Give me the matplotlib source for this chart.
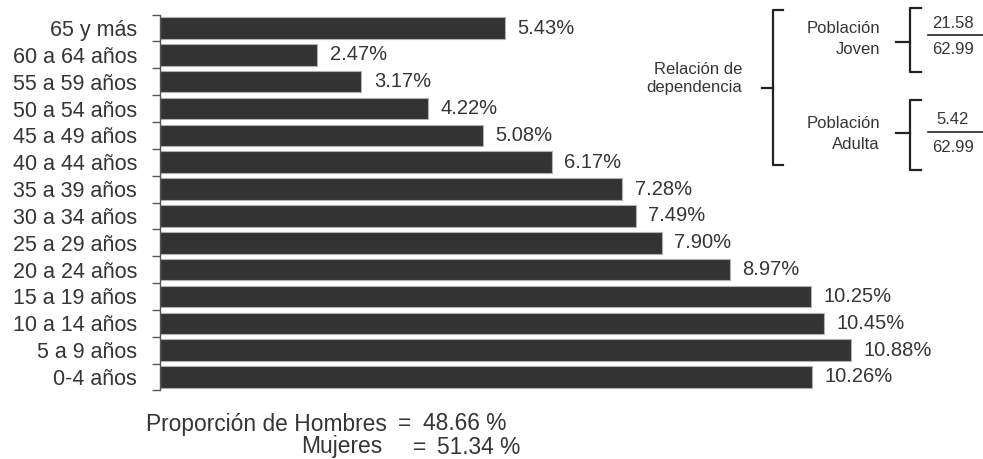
import matplotlib
matplotlib.use("Agg")
import matplotlib.pyplot as plt
from matplotlib.lines import Line2D
import numpy as np

plt.rcParams["font.family"] = ["Liberation Sans", "DejaVu Sans"]

# age groups, top to bottom as drawn
grupos = ["65 y más", "60 a 64 años", "55 a 59 años", "50 a 54 años", "45 a 49 años",
          "40 a 44 años", "35 a 39 años", "30 a 34 años", "25 a 29 años", "20 a 24 años",
          "15 a 19 años", "10 a 14 años", "5 a 9 años", "0-4 años"]
porcentajes = [5.43, 2.47, 3.17, 4.22, 5.08, 6.17, 7.28, 7.49, 7.90, 8.97,
               10.25, 10.45, 10.88, 10.26]

joven_num, joven_den = "21.58", "62.99"
adulta_num, adulta_den = "5.42", "62.99"
hombres, mujeres = "48.66 %", "51.34 %"

W, H = 983, 459
TXT = "#353535"


def px(x, y):
    """pixel (from top-left) -> figure fraction"""
    return x / W, 1 - y / H


fig = plt.figure(figsize=(W / 100, H / 100), dpi=100)
ax = fig.add_axes([160 / W, 1 - 390.4 / H, 63.5 * 12 / W, (390.4 - 14.6) / H])

ypos = np.arange(len(grupos))
ax.barh(ypos, porcentajes, height=0.8, color="#333333", edgecolor="#b0b0b0", linewidth=0.8)
for y, v in zip(ypos, porcentajes):
    ax.text(v + 0.2, y, f"{v:.2f}%", va="center", ha="left", fontsize=14.5, color=TXT)

ax.set_xlim(0, 12)
ax.set_ylim(len(grupos) - 0.5, -0.5)
ax.set_yticks(ypos)
ax.set_yticklabels(grupos, fontsize=15.5, color=TXT)
ax.set_yticks(np.arange(-0.5, len(grupos)), minor=True)
ax.tick_params(axis="y", which="major", length=0, pad=16.5)
ax.tick_params(axis="y", which="minor", length=6, width=1, color="#555555")
ax.set_xticks([])
for s in ["top", "right", "bottom"]:
    ax.spines[s].set_visible(False)
ax.spines["left"].set_color("#555555")
ax.spines["left"].set_linewidth(1)


def brace(x, y0, y1, ym, tick, serif):
    pts = [(x + serif, y0), (x, y0), (x, y1), (x + serif, y1)]
    xs, ys = zip(*[px(a, b) for a, b in pts])
    fig.add_artist(Line2D(xs, ys, color="#222222", lw=1.6, solid_joinstyle="round"))
    (a0, b0), (a1, b1) = px(x - tick, ym), px(x, ym)
    fig.add_artist(Line2D([a0, a1], [b0, b1], color="#222222", lw=1.6))


def ftext(x, y, s, **kw):
    kw.setdefault("fontsize", 12)
    kw.setdefault("color", TXT)
    fig.text(*px(x, y), s, **kw)


# dependency annotation
ftext(742, 78, "Relación de\ndependencia", ha="right", va="center", linespacing=1.25)
brace(773, 10, 165, 88, 11, 10)
ftext(880, 39, "Población\nJoven", ha="right", va="center", linespacing=1.5)
brace(910, 8, 72, 42, 14, 11)
ftext(880, 134, "Población\nAdulta", ha="right", va="center", linespacing=1.5)
brace(910, 100, 170, 133, 14, 11)

for num, den, yl in [(joven_num, joven_den, 35), (adulta_num, adulta_den, 132)]:
    ftext(953, yl - 12, num, ha="center", va="center")
    ftext(953, yl + 15, den, ha="center", va="center")
    (a0, b0), (a1, b1) = px(928, yl), px(983, yl)
    fig.add_artist(Line2D([a0, a1], [b0, b1], color="#222222", lw=1.2))

# sex proportions
fs = 16.4
ftext(146, 424, "Proporción de Hombres", ha="left", va="center", fontsize=fs)
ftext(398, 424, "=", ha="left", va="center", fontsize=fs)
ftext(423, 424, hombres, ha="left", va="center", fontsize=fs)
ftext(301, 447, "Mujeres", ha="left", va="center", fontsize=fs)
ftext(413, 447, "=", ha="left", va="center", fontsize=fs)
ftext(437, 447, mujeres, ha="left", va="center", fontsize=fs)

fig.savefig("out.png", dpi=100)
